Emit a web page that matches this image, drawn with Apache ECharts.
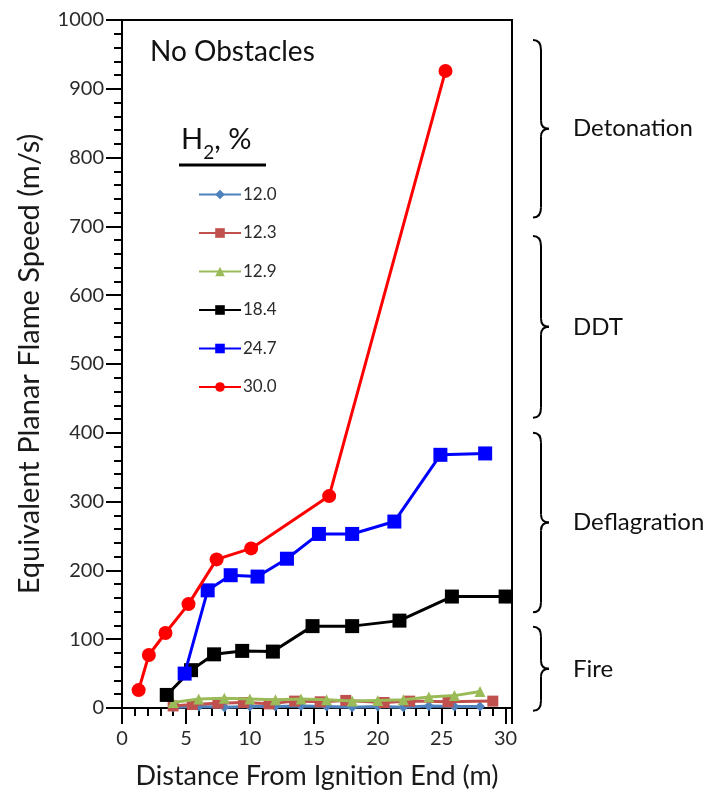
<!DOCTYPE html>
<html>
<head>
<meta charset="utf-8">
<script src="https://cdn.jsdelivr.net/npm/echarts@6/dist/echarts.min.js"></script>
<style>
html,body{margin:0;padding:0;background:#fff;}
#c{width:717px;height:795px;}
</style>
</head>
<body>
<div id="c"></div>
<script>
// ---- data ----
const seriesNames = ['12.0', '12.3', '12.9', '18.4', '24.7', '30.0'];
const h120 = [[4,1],[6,2],[8,1],[10,2],[12,2],[14,3],[16,2],[18,1],[20,2],[22,1],[24,3],[26,2],[28,2]];
const h123 = [[4,3],[5.5,5],[7.5,7],[9.5,8],[11.5,6],[13.5,10],[15.5,9],[17.5,11],[20.5,8],[22.5,10],[25.5,9],[29,10]];
const h129 = [[4,8],[6,13],[8,14],[10,13],[12,12],[14,13],[16,12],[18,10],[20,11],[22,12],[24,16],[26,18],[28,24]];
const h184 = [[3.5,19],[5.4,55],[7.2,78],[9.4,83],[11.8,82],[14.9,119],[18.0,119],[21.7,127],[25.8,162],[30.0,162]];
const h247 = [[4.9,50],[6.7,171],[8.5,193],[10.6,191],[12.9,217],[15.4,253],[18.0,253],[21.3,271],[24.9,368],[28.4,370]];
const h300 = [[1.3,26],[2.1,77],[3.4,109],[5.2,151],[7.4,216],[10.1,232],[16.2,308],[25.3,926]];
const regimes = ['Detonation', 'DDT', 'Deflagration', 'Fire'];
const regimeRanges = [[971, 713], [686, 422], [400, 139], [118, -4]];
const xTitle = 'Distance From Ignition End (m)';
const yTitle = 'Equivalent Planar Flame Speed (m/s)';

// ---- chart ----
const FONT = 'Lato';
const chart = echarts.init(document.getElementById('c'));
const colors = ['#4f81bd', '#c0504d', '#9bbb59', '#000000', '#0000ff', '#ff0000'];
const symbols = ['diamond', 'rect', 'triangle', 'rect', 'rect', 'circle'];
const sizes = [10, 11, 11, 14, 14, 14];
const datasets = [h120, h123, h129, h184, h247, h300];

const gridBox = {left: 122, right: 205, top: 20, bottom: 86};

function tickAxis(interval, len, offset, max) {
  return {
    type: 'value', min: 0, max: max, interval: interval, offset: offset,
    axisLine: {show: false}, axisLabel: {show: false}, splitLine: {show: false},
    axisTick: {show: true, inside: true, length: len, lineStyle: {color: '#000', width: 2}}
  };
}

const xMain = {
  type: 'value', min: 0, max: 30.5, interval: 5,
  name: xTitle, nameLocation: 'middle', nameGap: 55,
  nameTextStyle: {fontFamily: FONT, fontSize: 27, color: '#1a1a1a'},
  axisLine: {show: true, lineStyle: {color: '#000', width: 2}},
  axisTick: {show: false}, splitLine: {show: false},
  axisLabel: {margin: 21, fontFamily: FONT, fontSize: 20, color: '#2a2a2a',
    formatter: v => (v % 5 === 0 ? String(v) : '')}
};
const yMain = {
  type: 'value', min: 0, max: 1000, interval: 100,
  name: yTitle, nameLocation: 'middle', nameGap: 78,
  nameTextStyle: {fontFamily: FONT, fontSize: 29, color: '#1a1a1a'},
  axisLine: {show: true, lineStyle: {color: '#000', width: 2}},
  axisTick: {show: false}, splitLine: {show: false},
  axisLabel: {margin: 18, fontFamily: FONT, fontSize: 20, color: '#2a2a2a',
    formatter: v => String(v)}
};

const option = {
  backgroundColor: '#fff',
  animation: false,
  grid: Object.assign({show: true, borderColor: '#000', borderWidth: 2, backgroundColor: 'transparent'}, gridBox),
  xAxis: [xMain, tickAxis(5, 16, 8, 30.5), tickAxis(1, 8, 4, 30.5)],
  yAxis: [yMain, tickAxis(100, 16, 8, 1000), tickAxis(20, 8, 4, 1000)],
  legend: {
    orient: 'vertical', left: 193, top: 181,
    itemWidth: 42, itemHeight: 12, itemGap: 21.5,
    textStyle: {fontFamily: FONT, fontSize: 17, color: '#2a2a2a', padding: [0, 0, 0, -3]},
    data: seriesNames
  },
  series: datasets.map((d, i) => ({
    name: seriesNames[i], type: 'line', data: d,
    xAxisIndex: 0, yAxisIndex: 0,
    symbol: symbols[i], symbolSize: sizes[i],
    lineStyle: {color: colors[i], width: 3},
    itemStyle: {color: colors[i]},
    z: 2 + i
  }))
};
chart.setOption(option);

// ---- annotations ----
const g = [
  {type: 'text', x: 150, y: 52,
   style: {text: 'No Obstacles', font: '28px ' + FONT, fill: '#111', textVerticalAlign: 'middle'}},
  {type: 'text', x: 181, y: 140,
   style: {
     text: '{a|H}{s|2}{a|, %}',
     textVerticalAlign: 'middle',
     rich: {
       a: {fontFamily: FONT, fontSize: 29, fill: '#111', verticalAlign: 'bottom'},
       s: {fontFamily: FONT, fontSize: 19, fill: '#111', verticalAlign: 'bottom', padding: [0, 0, -8, 0]}
     }
   }},
  {type: 'line', shape: {x1: 179, y1: 165, x2: 266, y2: 165}, style: {stroke: '#000', lineWidth: 3}}
];
const bx = 533, spine = 541, tip = 549;
const bStyle = {stroke: '#000', lineWidth: 2, fill: null};
regimeRanges.forEach((r, i) => {
  const yt = chart.convertToPixel({yAxisIndex: 0}, r[0]);
  const yb = chart.convertToPixel({yAxisIndex: 0}, r[1]);
  const ym = (yt + yb) / 2;
  g.push({type: 'bezierCurve', shape: {x1: bx, y1: yt, cpx1: spine, cpy1: yt, x2: spine, y2: yt + 10}, style: bStyle});
  g.push({type: 'line', shape: {x1: spine, y1: yt + 10, x2: spine, y2: ym - 8}, style: bStyle});
  g.push({type: 'bezierCurve', shape: {x1: spine, y1: ym - 8, cpx1: spine, cpy1: ym, x2: tip, y2: ym}, style: bStyle});
  g.push({type: 'bezierCurve', shape: {x1: tip, y1: ym, cpx1: spine, cpy1: ym, x2: spine, y2: ym + 8}, style: bStyle});
  g.push({type: 'line', shape: {x1: spine, y1: ym + 8, x2: spine, y2: yb - 10}, style: bStyle});
  g.push({type: 'bezierCurve', shape: {x1: spine, y1: yb - 10, cpx1: spine, cpy1: yb, x2: bx, y2: yb}, style: bStyle});
  g.push({type: 'text', x: 573, y: ym,
          style: {text: regimes[i], font: '24px ' + FONT, fill: '#111', textVerticalAlign: 'middle'}});
});
chart.setOption({graphic: g});
</script>
</body>
</html>
